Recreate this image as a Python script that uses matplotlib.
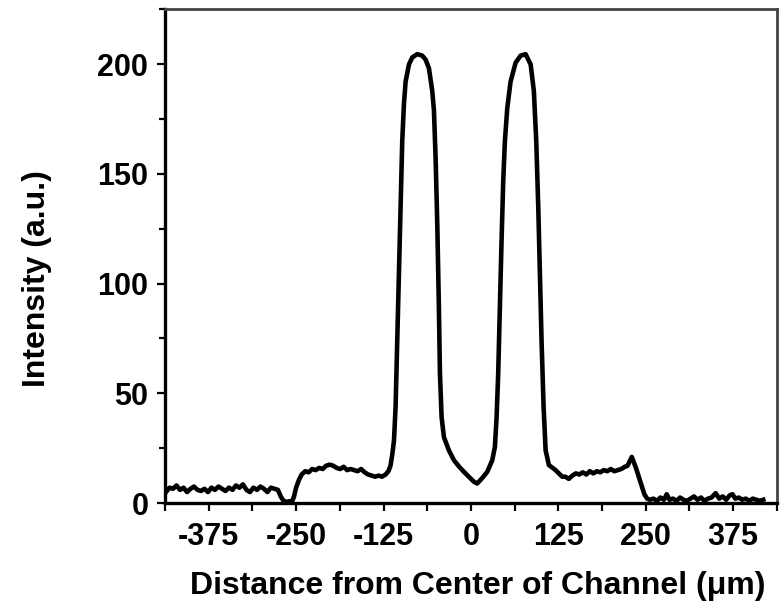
import numpy as np
import matplotlib.pyplot as plt
from matplotlib.ticker import MultipleLocator

# --- Intensity profile across the channel ---
dist = [
    -436, -431, -426, -421, -416, -411, -406, -401, -396, -391, -386, -381,
    -376, -371, -366, -361, -356, -351, -346, -341, -336, -331, -326, -321,
    -316, -311, -306, -301, -296, -291, -286, -281, -276, -272, -268, -264,
    -260, -256, -253, -250, -246, -242, -237, -232, -227, -222, -217, -212,
    -207, -202, -197, -192, -187, -182, -177, -172, -167, -162, -157, -152,
    -147, -142, -137, -132, -127, -122, -118, -115, -112.5, -110, -107.7,
    -105.3, -103, -100.6, -98.2, -95.8, -93.4, -88.6, -83.9, -76.7, -69.6,
    -64.8, -60, -55.3, -52.9, -50.5, -48.1, -45.8, -44.3, -41.9, -38.6,
    -31.5, -24.3, -17.2, -10, -2.9, 4.3, 9, 16.2, 23.3, 30.5, 34.3, 36.7,
    39, 41.4, 43.8, 46.2, 48.6, 52, 56.7, 63.9, 71, 78.2, 85.4, 90, 93.4,
    96.3, 98.7, 101, 103.9, 106.8, 111.5, 121, 130.5, 135, 140, 145, 150,
    155, 160, 165, 170, 175, 180, 185, 190, 195, 200, 205, 210, 215, 220,
    224, 227, 230, 233, 236, 240, 244, 248, 252, 256, 261, 266, 271, 276,
    280, 284, 289, 294, 299, 304, 309, 314, 319, 324, 329, 334, 339, 344,
    350, 355, 360, 365, 370, 374, 378, 383, 388, 393, 398, 403, 408, 413,
    418,
]
intensity = [
    5, 7, 6.5, 8, 6, 7, 5, 6.5, 7.5, 6, 5.5, 6.5,
    5, 7, 6, 7.5, 6.5, 5.5, 7, 6, 8, 7, 8.5, 6,
    5, 7, 6, 7.5, 6.5, 5, 7, 6.5, 6, 3, 1, 0.5,
    0.8, 0.5, 3, 7, 10.5, 13, 14.5, 14, 15.5, 15, 16, 15.5,
    17, 17.5, 17, 16, 15.5, 16.5, 15, 15.5, 15, 14.5, 15.5, 14,
    13, 12.5, 12, 12.5, 12, 13, 14.5, 17, 22, 28.6, 44,
    74, 104, 134.7, 165, 181.7, 192, 199.8, 203, 204.5, 203.8,
    202, 198, 187.7, 179, 157, 127, 89, 59, 39, 30,
    24, 19.5, 16.7, 14.2, 12, 9.7, 8.9, 11.4, 14.2, 19.5, 25.6, 39,
    59, 89, 119.5, 146.8, 165, 180, 192, 200.6, 203.8, 204.5, 199.8, 187.7, 165,
    134.7, 104, 74, 44, 24, 17.3, 15, 12, 12, 11, 12.5, 13.5,
    13, 14, 13, 14.5, 13.5, 14.5, 14, 15, 14.5, 15.5, 14.5, 15, 15.5, 16.5,
    17, 19, 21, 18.5, 16, 12, 8, 4, 2, 1.5, 2, 1, 2.5, 1.5,
    4, 1.5, 2, 1, 2.5, 1.5, 1, 2, 3, 1.5, 2.5, 1, 2, 2.5,
    4.5, 2, 3, 1.5, 3.5, 4, 2, 2.5, 1.5, 2, 1, 2, 1.5, 1,
    1.5,
]

xticks = [-375, -250, -125, 0, 125, 250, 375]
yticks = [0, 50, 100, 150, 200]

plt.rcParams['font.family'] = ['Liberation Sans', 'DejaVu Sans']
plt.rcParams['font.weight'] = 'bold'
plt.rcParams['axes.unicode_minus'] = False

fig = plt.figure(figsize=(7.8, 6.09), dpi=100)
ax = fig.add_axes([0.2115, 0.174, 0.7845, 0.811])

ax.plot(dist, intensity, color='black', lw=3.3, solid_joinstyle='round')

ax.set_xlim(-437.5, 437.5)
ax.set_ylim(0, 225)
ax.set_xticks(xticks)
ax.set_yticks(yticks)
ax.xaxis.set_minor_locator(MultipleLocator(62.5))
ax.yaxis.set_minor_locator(MultipleLocator(25))
ax.tick_params(which='both', direction='out', width=1.6, labelsize=22,
               top=False, right=False)
ax.tick_params(axis='x', which='both', length=5.5, pad=8)
ax.tick_params(axis='y', which='major', length=6, pad=6)
ax.tick_params(axis='y', which='minor', length=4)
for lab in ax.get_xticklabels() + ax.get_yticklabels():
    lab.set_fontweight('bold')

for side in ['left', 'bottom']:
    ax.spines[side].set_linewidth(2.4)
    ax.spines[side].set_color('black')
for side in ['top', 'right']:
    ax.spines[side].set_linewidth(2.0)
    ax.spines[side].set_color('#444444')

ax.set_xlabel('Distance from Center of Channel (\u03bcm)', fontsize=23,
              fontweight='bold')
ax.set_ylabel('Intensity (a.u.)', fontsize=23, fontweight='bold')
ax.xaxis.set_label_coords(0.511, -0.137)
ax.yaxis.set_label_coords(-0.185, 0.455)

fig.savefig('out.png', dpi=100)
